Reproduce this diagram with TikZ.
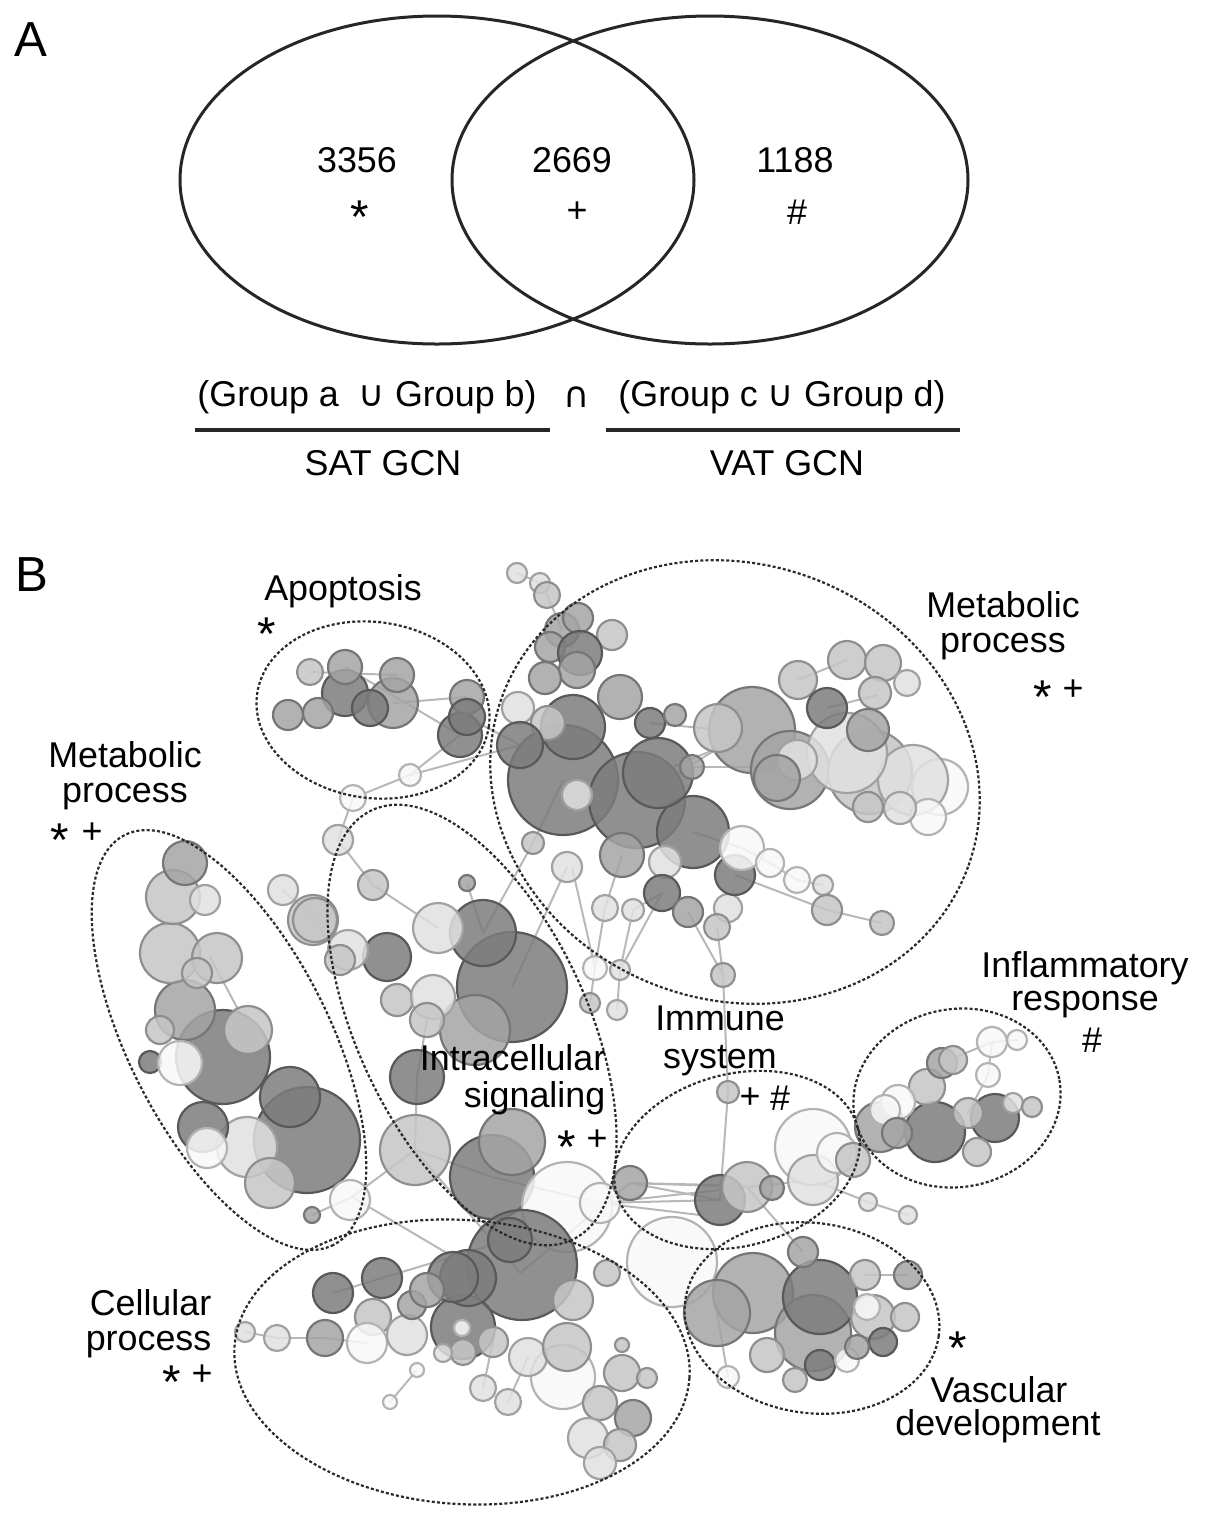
\documentclass[tikz,border=0pt]{standalone}
\usepackage{fontspec}
\setmainfont{Liberation Sans}
\newfontfamily\symf{DejaVu Sans}
\definecolor{bd}{HTML}{7C7C7C}
\definecolor{bm}{HTML}{A4A4A4}
\definecolor{bl}{HTML}{C6C6C6}
\definecolor{bv}{HTML}{E0E0E0}
\definecolor{bw}{HTML}{F8F8F8}
\definecolor{edgec}{HTML}{B8B8B8}
\definecolor{dashc}{HTML}{2A2A2A}
\tikzset{
  venn/.style={line width=0.3mm, draw=black!85},
  uline/.style={line width=0.4mm, draw=black!85},
  grp/.style={line width=0.22mm, draw=dashc, dash pattern=on 0.3mm off 0.22mm},
  edgeln/.style={line width=0.2mm, draw=edgec},
  lab/.style={font=\fontsize{10.2}{11}\selectfont, inner sep=0pt, anchor=base},
  sym/.style={font=\fontsize{10.2}{11}\selectfont, inner sep=0pt},
  ast/.style={font=\fontsize{13.5}{13.5}\selectfont, inner sep=0pt, anchor=base},
  panel/.style={font=\fontsize{14}{16}\selectfont, inner sep=0pt}
}
\begin{document}
\begin{tikzpicture}[x=0.1mm,y=-0.1mm]
\useasboundingbox (0,0) rectangle (1205,1522);

% ---------------- Panel A ----------------
\node[panel] (pa) at (31,40) {A};
\draw[venn] (437,180) ellipse (257 and 164);
\draw[venn] (710,180) ellipse (258 and 164);
\node[sym] (n1) at (357,160) {3356};
\node[ast] (s1) at (360,233) {*};
\node[sym] (n2) at (572,160) {2669};
\node[sym] (s2) at (577,212) {+};
\node[sym] (n3) at (795,160) {1188};
\node[sym] (s3) at (797,212) {\#};
\node[sym] (g1) at (367,397) {(Group a \ {\symf ∪} Group b)};
\node[sym] (cap) at (577,397) {{\symf ∩}};
\node[sym] (g2) at (782,397) {(Group c {\symf ∪} Group d)};
\coordinate (l1a) at (195,430); \coordinate (l1b) at (550,430);
\coordinate (l2a) at (606,430); \coordinate (l2b) at (960,430);
\draw[uline] (l1a) -- (l1b);
\draw[uline] (l2a) -- (l2b);
\node[sym] (sat) at (383,463) {SAT GCN};
\node[sym] (vat) at (787,463) {VAT GCN};

% ---------------- Panel B ----------------
\node[panel] (pb) at (32,575) {B};

% edges
\foreach \a/\b/\c/\d in {
310/672/397/675, 345/667/460/735, 393/703/467/697, 467/717/520/745, 410/775/353/798,
410/775/460/735, 410/775/520/745, 353/798/338/840, 338/840/373/885, 373/885/438/928,
467/883/483/933, 517/573/540/583, 540/583/547/595, 547/595/562/630,
483/933/533/843, 512/987/567/867, 605/908/595/968, 633/910/620/970, 595/968/590/1003,
620/970/617/1010, 492/1177/600/1203, 415/1150/492/1177, 427/1020/417/1077, 417/1077/415/1150,
637/800/743/732, 658/773/718/748, 693/832/742/848, 742/848/770/863, 770/863/797/880,
797/880/823/885, 735/875/827/910, 827/910/882/923, 688/912/723/975, 717/927/723/975,
723/975/728/1092, 728/1092/720/1200, 798/680/847/660, 827/708/877/695, 605/908/622/855,
633/910/662/893, 533/843/563/780, 630/1183/720/1200, 600/1203/720/1200, 813/1180/868/1202,
868/1202/908/1215, 747/1187/803/1252, 992/1042/988/1075, 988/1075/968/1113, 1017/1040/992/1042,
942/1063/992/1042, 717/1313/728/1377, 865/1275/908/1275, 245/1332/277/1338, 277/1338/325/1338,
325/1338/367/1343, 333/1293/382/1278, 382/1278/508/1240, 417/1370/390/1402, 493/1342/483/1388,
528/1357/508/1402, 520/1273/630/1183, 415/1150/520/1273, 352/1197/462/1262, 283/890/315/920,
315/920/340/960, 210/957/248/1028, 352/1197/415/1150, 312/1215/352/1197, 630/1183/747/1187,
600/1203/813/1180, 620/970/662/893, 595/968/572/867, 650/723/743/732, 692/767/787/767,
630/1183/720/1185, 600/1203/700/1215}
  \draw[edgeln] (\a,\b) -- (\c,\d);

% bubbles
\foreach \x/\y/\r/\c in {
% apoptosis
345/693/23/bd, 393/703/25/bm, 310/672/13/bl, 345/667/17/bm, 397/675/17/bm, 370/708/18/bd,
318/713/15/bm, 288/715/15/bm, 460/735/22/bd, 467/697/17/bm, 467/717/18/bd, 410/775/11/bw,
353/798/13/bw, 338/840/15/bv, 373/885/15/bl, 467/883/8/bm, 517/573/10/bv, 540/583/10/bv, 547/595/13/bl,
% metabolic top right
563/780/55/bd, 637/800/48/bd, 693/832/36/bd, 658/773/35/bd, 573/727/32/bd,
562/630/17/bm, 578/618/15/bm, 612/635/15/bl, 550/647/15/bm, 580/653/22/bd, 577/670/18/bm,
545/678/16/bm, 620/697/22/bm, 518/708/16/bv, 548/723/17/bl, 520/745/23/bd, 577/795/15/bv,
650/723/15/bd, 675/715/11/bm, 692/767/12/bm, 622/855/22/bm, 665/862/16/bv, 533/843/11/bl,
567/867/15/bv, 662/893/18/bd, 688/912/15/bm, 728/908/14/bv, 717/927/13/bl, 735/875/20/bd,
742/848/22/bw, 770/863/14/bw, 797/880/13/bw, 823/885/10/bv, 827/910/15/bl, 882/923/12/bl,
605/908/13/bv, 633/910/11/bv,
752/730/43/bm, 790/770/39/bm, 870/772/42/bl, 940/787/28/bw, 913/780/35/bv, 847/753/40/bv,
797/760/20/bv, 718/728/24/bl, 798/680/19/bl, 847/660/19/bl,
883/663/18/bl, 907/683/13/bv, 875/693/16/bl, 827/708/20/bd, 868/730/21/bm, 777/778/23/bm,
928/817/18/bw, 900/808/16/bv, 868/807/15/bl,
% intracellular
512/987/55/bd, 483/933/33/bd, 438/928/25/bv, 475/1030/35/bm, 492/1177/42/bd, 567/1207/45/bw,
512/1142/33/bm, 415/1150/35/bl, 417/1077/27/bd, 387/957/24/bd, 348/950/20/bv, 340/960/15/bl,
313/920/25/bl, 397/1000/16/bl, 433/997/22/bv, 427/1020/17/bl, 600/1203/20/bw, 630/1183/17/bm,
595/968/12/bw, 620/970/10/bv, 590/1003/10/bl, 617/1010/10/bv, 312/1215/8/bm,
% metabolic left
307/1140/53/bd, 223/1057/47/bd, 290/1097/30/bd, 247/1147/30/bv, 203/1127/25/bd, 185/1010/30/bm,
170/953/30/bl, 173/897/27/bl, 205/900/15/bv, 185/863/22/bm, 217/958/25/bl, 197/973/15/bl,
160/1030/14/bl, 150/1062/11/bd, 180/1063/22/bw, 248/1030/24/bl, 207/1148/20/bw,
270/1183/25/bl, 350/1200/20/bw, 283/890/15/bv, 315/920/22/bl,
% immune
672/1262/45/bw, 720/1200/25/bd, 747/1187/25/bl, 772/1188/12/bm, 813/1147/38/bw, 813/1180/25/bv,
837/1153/20/bw, 853/1160/17/bl, 723/975/12/bl, 728/1092/11/bl, 868/1202/9/bv, 908/1215/9/bv,
% inflammatory
935/1132/30/bd, 880/1127/25/bm, 995/1118/24/bd, 927/1087/18/bl, 942/1063/15/bm, 953/1060/14/bl,
898/1102/17/bw, 885/1110/15/bw, 897/1133/15/bm, 968/1113/15/bl, 977/1152/14/bl, 1013/1103/10/bv,
1032/1107/10/bl, 992/1042/15/bw, 1017/1040/10/bw, 988/1075/12/bw,
% vascular
753/1293/40/bm, 717/1313/33/bm, 813/1333/38/bm, 820/1297/37/bd, 803/1252/15/bm, 865/1275/15/bl,
908/1275/14/bm, 873/1317/22/bl, 867/1307/13/bw, 883/1342/14/bd, 905/1317/14/bl, 767/1355/17/bl,
820/1365/15/bd, 847/1360/12/bw, 857/1347/12/bm, 795/1380/12/bl, 728/1377/11/bw,
% cellular
522/1265/55/bd, 563/1377/32/bw, 463/1327/32/bd, 468/1278/28/bd, 453/1277/25/bd, 510/1240/22/bd,
333/1293/20/bd, 382/1278/20/bd, 325/1338/18/bm, 373/1317/18/bl, 367/1343/20/bw, 407/1335/20/bv,
412/1305/14/bm, 427/1290/17/bm, 462/1328/8/bw, 493/1342/15/bl, 463/1352/13/bl, 443/1353/9/bv,
417/1370/7/bw, 390/1402/7/bw, 483/1388/13/bv, 508/1402/13/bv, 528/1357/19/bv, 567/1347/24/bl,
573/1300/20/bl, 607/1273/13/bl, 622/1373/18/bl, 647/1378/10/bl, 600/1403/17/bl, 633/1418/18/bm,
588/1438/20/bv, 620/1445/16/bl, 600/1463/16/bv, 622/1345/7/bl, 245/1332/10/bv, 277/1338/13/bv}
  \draw[line width=0.22mm, fill=\c, draw=\c!72!black, fill opacity=0.85] (\x,\y) circle (\r);

% group ellipses
\draw[grp, rotate around={-8:(373,710)}] (373,710) ellipse (117 and 88);
\draw[grp, rotate around={-20:(735,782)}] (735,782) ellipse (248 and 218);
\draw[grp, rotate around={-63:(229,1040)}] (229,1040) ellipse (230 and 100);
\draw[grp, rotate around={-65:(472,1025)}] (472,1025) ellipse (237 and 115);
\draw[grp, rotate around={15:(737,1160)}] (737,1160) ellipse (125 and 86);
\draw[grp, rotate around={10:(957,1098)}] (957,1098) ellipse (104 and 89);
\draw[grp, rotate around={-8:(812,1318)}] (812,1318) ellipse (128 and 95);
\draw[grp, rotate around={-4:(462,1362)}] (462,1362) ellipse (228 and 142);

% labels
\node[lab] (apo) at (343,600) {Apoptosis};
\node[ast] (apos) at (267,650) {*};
\node[lab] (mt1) at (1003,617) {Metabolic};
\node[lab] (mt2) at (1003,652) {process};
\node[ast] (mts) at (1043,713) {*};
\node[sym] (mtp) at (1073,690) {+};
\node[lab] (ml1) at (125,767) {Metabolic};
\node[lab] (ml2) at (125,802) {process};
\node[ast] (mls) at (60,856) {*};
\node[sym] (mlp) at (92,833) {+};
\node[lab, anchor=base east] (ic1) at (606,1070) {Intracellular};
\node[lab, anchor=base east] (ic2) at (606,1107) {signaling};
\node[ast] (ics) at (567,1163) {*};
\node[sym] (icp) at (597,1140) {+};
\node[lab] (im1) at (720,1030) {Immune};
\node[lab] (im2) at (720,1068) {system};
\node[sym] (imp) at (750,1098) {+};
\node[sym] (imh) at (780,1098) {\#};
\node[lab] (if1) at (1085,977) {Inflammatory};
\node[lab] (if2) at (1085,1010) {response};
\node[sym] (ifh) at (1092,1040) {\#};
\node[lab, anchor=base east] (ce1) at (212,1315) {Cellular};
\node[lab, anchor=base east] (ce2) at (212,1350) {process};
\node[ast] (ces) at (172,1398) {*};
\node[sym] (cep) at (202,1375) {+};
\node[ast] (vas) at (958,1364) {*};
\node[lab] (va1) at (999,1402) {Vascular};
\node[lab] (va2) at (998,1435) {development};
\end{tikzpicture}
\end{document}
